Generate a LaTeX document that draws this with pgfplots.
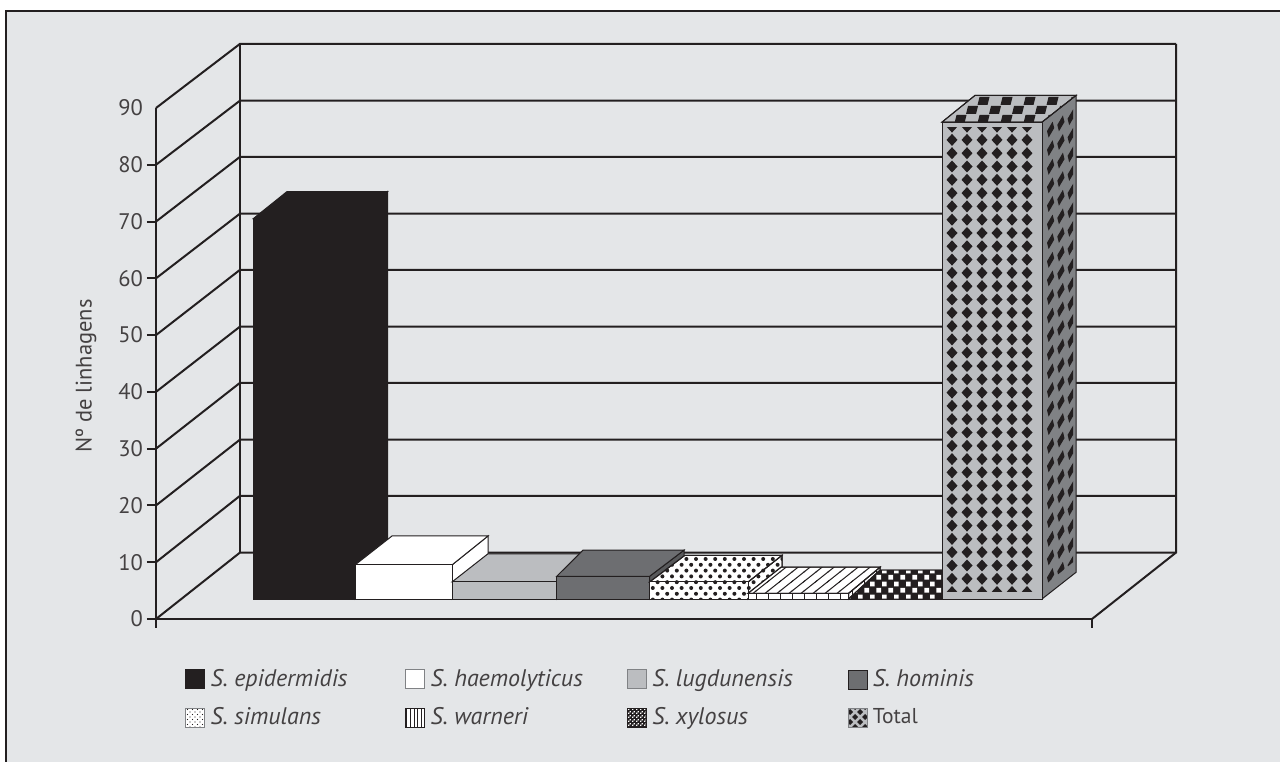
\documentclass[border=0pt]{standalone}
\usepackage{fontspec}
\setmainfont{PT Sans}
\usepackage{pgfplots}
\pgfplotsset{compat=1.18}
\usetikzlibrary{patterns}

\definecolor{panel}{HTML}{E4E6E8}
\definecolor{ink}{HTML}{231F20}
\definecolor{midgray}{HTML}{BBBDC0}
\definecolor{darkgray}{HTML}{6D6E71}
\definecolor{sidegray}{HTML}{808285}
\definecolor{darkside}{HTML}{58595B}

% Hatchings used on the faces of the bars
\pgfdeclarepatternformonly{bardots}{\pgfqpoint{-3pt}{-3pt}}{\pgfqpoint{9pt}{10pt}}{\pgfqpoint{9.6pt}{11.6pt}}{%
  \pgfpathcircle{\pgfqpoint{0pt}{0pt}}{2pt}\pgfpathcircle{\pgfqpoint{4.8pt}{5.8pt}}{2pt}\pgfusepath{fill}}
\pgfdeclarepatternformonly{barvlines}{\pgfqpoint{-1pt}{-1pt}}{\pgfqpoint{13pt}{13pt}}{\pgfqpoint{12pt}{12pt}}{%
  \pgfsetlinewidth{1pt}\pgfpathmoveto{\pgfqpoint{0pt}{-1pt}}\pgfpathlineto{\pgfqpoint{0pt}{13pt}}\pgfusepath{stroke}}
\pgfdeclarepatternformonly{barslant}{\pgfqpoint{-1pt}{-1pt}}{\pgfqpoint{13pt}{11pt}}{\pgfqpoint{12pt}{9.5pt}}{%
  \pgfsetlinewidth{1pt}\pgfpathmoveto{\pgfqpoint{-1pt}{-0.8pt}}\pgfpathlineto{\pgfqpoint{13pt}{10.3pt}}\pgfusepath{stroke}}
\pgfdeclarepatternformonly{barsquares}{\pgfqpoint{0pt}{0pt}}{\pgfqpoint{12pt}{13pt}}{\pgfqpoint{12pt}{13pt}}{%
  \pgfpathrectangle{\pgfqpoint{0.5pt}{0.5pt}}{\pgfqpoint{5pt}{5pt}}%
  \pgfpathrectangle{\pgfqpoint{6.5pt}{7pt}}{\pgfqpoint{5pt}{5pt}}\pgfusepath{fill}}
\pgfdeclarepatternformonly{bardiamonds}{\pgfqpoint{1pt}{-9.5pt}}{\pgfqpoint{13pt}{3.8pt}}{\pgfqpoint{15pt}{13.3pt}}{%
  \pgfpathmoveto{\pgfqpoint{1.5pt}{-3pt}}\pgfpathlineto{\pgfqpoint{7pt}{3pt}}\pgfpathlineto{\pgfqpoint{12.5pt}{-3pt}}\pgfpathlineto{\pgfqpoint{7pt}{-9pt}}\pgfpathclose\pgfusepath{fill}}
\pgfdeclarepatternformonly{barskewdiamonds}{\pgfqpoint{-6pt}{-11pt}}{\pgfqpoint{31pt}{26pt}}{\pgfqpoint{30.9pt}{18.6pt}}{%
  \foreach \cx/\cy in {0/0,10.3/6.2,20.6/12.4}{%
    \pgfpathmoveto{\pgfpointadd{\pgfpoint{\cx pt}{\cy pt}}{\pgfqpoint{-3.6pt}{-1.5pt}}}%
    \pgfpathlineto{\pgfpointadd{\pgfpoint{\cx pt}{\cy pt}}{\pgfqpoint{2pt}{8pt}}}%
    \pgfpathlineto{\pgfpointadd{\pgfpoint{\cx pt}{\cy pt}}{\pgfqpoint{3.6pt}{1.5pt}}}%
    \pgfpathlineto{\pgfpointadd{\pgfpoint{\cx pt}{\cy pt}}{\pgfqpoint{-2pt}{-8pt}}}%
    \pgfpathclose}\pgfusepath{fill}}
\pgfdeclarepatternformonly{barchecks}{\pgfqpoint{0pt}{0pt}}{\pgfqpoint{26pt}{18pt}}{\pgfqpoint{23pt}{18pt}}{%
  \pgfpathmoveto{\pgfqpoint{0pt}{0pt}}\pgfpathlineto{\pgfqpoint{10pt}{0pt}}\pgfpathlineto{\pgfqpoint{12pt}{8pt}}\pgfpathlineto{\pgfqpoint{2pt}{8pt}}\pgfpathclose
  \pgfpathmoveto{\pgfqpoint{11.5pt}{9pt}}\pgfpathlineto{\pgfqpoint{21.5pt}{9pt}}\pgfpathlineto{\pgfqpoint{23.5pt}{17pt}}\pgfpathlineto{\pgfqpoint{13.5pt}{17pt}}\pgfpathclose
  \pgfusepath{fill}}
% Finer versions for the legend keys
\pgfdeclarepatternformonly{keydots}{\pgfqpoint{-1pt}{-1pt}}{\pgfqpoint{4pt}{4pt}}{\pgfqpoint{5pt}{5pt}}{%
  \pgfpathcircle{\pgfqpoint{0pt}{0pt}}{0.6pt}\pgfpathcircle{\pgfqpoint{2.5pt}{2.5pt}}{0.6pt}\pgfusepath{fill}}
\pgfdeclarepatternformonly{keylines}{\pgfqpoint{-1pt}{-1pt}}{\pgfqpoint{4pt}{5pt}}{\pgfqpoint{3.6pt}{4pt}}{%
  \pgfsetlinewidth{1pt}\pgfpathmoveto{\pgfqpoint{0pt}{-1pt}}\pgfpathlineto{\pgfqpoint{0pt}{5pt}}\pgfusepath{stroke}}
\pgfdeclarepatternformonly{keychecks}{\pgfqpoint{0pt}{0pt}}{\pgfqpoint{4pt}{4pt}}{\pgfqpoint{4pt}{4pt}}{%
  \pgfpathrectangle{\pgfqpoint{0pt}{0pt}}{\pgfqpoint{1.5pt}{1.5pt}}%
  \pgfpathrectangle{\pgfqpoint{2pt}{2pt}}{\pgfqpoint{1.5pt}{1.5pt}}\pgfusepath{fill}}
\pgfdeclarepatternformonly{keydiamonds}{\pgfqpoint{-4pt}{-4pt}}{\pgfqpoint{9pt}{9pt}}{\pgfqpoint{10pt}{10pt}}{%
  \foreach \cx/\cy in {0/0,5/5}{%
    \pgfpathmoveto{\pgfpointadd{\pgfpoint{\cx pt}{\cy pt}}{\pgfqpoint{-3pt}{0pt}}}%
    \pgfpathlineto{\pgfpointadd{\pgfpoint{\cx pt}{\cy pt}}{\pgfqpoint{0pt}{3pt}}}%
    \pgfpathlineto{\pgfpointadd{\pgfpoint{\cx pt}{\cy pt}}{\pgfqpoint{3pt}{0pt}}}%
    \pgfpathlineto{\pgfpointadd{\pgfpoint{\cx pt}{\cy pt}}{\pgfqpoint{0pt}{-3pt}}}%
    \pgfpathclose}\pgfusepath{fill}}

\tikzset{
  plain face/.style={draw=ink,line width=1pt,fill=#1},
  hatch face/.style 2 args={draw=ink,line width=1pt,preaction={fill=#1},pattern=#2,pattern color=ink},
  white hatch face/.style={draw=ink,line width=1pt,preaction={fill=ink},pattern=#1,pattern color=white},
}

% Height of the bars' floor above the front zero line
\newcommand{\barfloor}{3.52}
% x-left, x-right, value, back x-left, back x-right, depth rise, then front, top and side styles
\newcommand{\threedbar}[9]{%
  \pgfmathsetmacro\ybot{\barfloor}%
  \pgfmathsetmacro\ytop{#3+\barfloor}%
  \pgfmathsetmacro\ybotb{\barfloor+#6}%
  \pgfmathsetmacro\ytopb{#3+\barfloor+#6}%
  \addplot[forget plot,#9] coordinates {(#2,\ybot) (#5,\ybotb) (#5,\ytopb) (#2,\ytop)} --cycle;
  \addplot[forget plot,#8] coordinates {(#1,\ytop) (#2,\ytop) (#5,\ytopb) (#4,\ytopb)} --cycle;
  \addplot[forget plot,#7] coordinates {(#1,\ybot) (#2,\ybot) (#2,\ytop) (#1,\ytop)} --cycle;
}
\newcommand{\keyname}[2]{\makebox[#1pt][l]{\hspace{5.5pt}\fontsize{24}{25}\selectfont\textit{#2}}}

\begin{document}
\fontsize{22.5}{25}\selectfont
\begin{tikzpicture}
  % Panel behind the chart, open towards the right and bottom edges
  \useasboundingbox (-156pt,-143pt) rectangle (1124pt,619pt);
  \fill[white] (-156pt,-143pt) rectangle (1124pt,619pt);
  \fill[panel] (-150pt,-143pt) rectangle (1124pt,608pt);
  \draw[ink,line width=2pt] (-150pt,-143pt) -- (-150pt,608pt) -- (1124pt,608pt);
  \begin{axis}[
    scale only axis,
    at={(0pt,0pt)},anchor=south west,
    width=936pt,height=511pt,
    xmin=156,xmax=1092,ymin=0,ymax=90,
    clip=false,
    axis x line*=bottom,axis y line*=left,
    axis line style={ink,line width=2pt,-},
    tick style={ink,line width=2pt},
    tick align=outside,
    xtick={156,1092},xticklabels={},
    major tick length=9pt,
    ytick={0,10,...,80},
    extra y ticks={90},extra y tick style={tick style={draw=none}},
    yticklabel style={text=ink!85,/pgf/number format/assume math mode=true,inner sep=0pt,xshift=-4pt},
    ylabel={N\textordmasculine\ de linhagens},
    every axis y label/.style={at={(axis description cs:-0.0748,0.4755)},rotate=90,anchor=center,text=ink!85},
    no markers,
    legend columns=4,
    legend image code/.code={\draw[#1] (0pt,-9.5pt) rectangle (19pt,9.5pt);},
    legend style={at={(axis description cs:0.031,-0.0978)},anchor=north west,draw=none,fill=none,
      inner sep=0pt,row sep=18pt,text=ink!85,
      nodes={inner sep=0pt,anchor=west}},
  ]
    % Side wall and back wall grid
    \addplot[forget plot,ink,line width=2pt] coordinates {(156,0) (240,11.7) (1176,11.7)};
    \addplot[forget plot,ink,line width=2pt] coordinates {(156,10) (240,21.7) (1176,21.7)};
    \addplot[forget plot,ink,line width=2pt] coordinates {(156,20) (240,31.6) (1176,31.6)};
    \addplot[forget plot,ink,line width=2pt] coordinates {(156,30) (240,41.6) (1176,41.6)};
    \addplot[forget plot,ink,line width=2pt] coordinates {(156,40) (240,51.5) (1176,51.5)};
    \addplot[forget plot,ink,line width=2pt] coordinates {(156,50) (240,61.5) (1176,61.5)};
    \addplot[forget plot,ink,line width=2pt] coordinates {(156,60) (240,71.4) (1176,71.4)};
    \addplot[forget plot,ink,line width=2pt] coordinates {(156,70) (240,81.4) (1176,81.4)};
    \addplot[forget plot,ink,line width=2pt] coordinates {(156,80) (240,91.3) (1176,91.3)};
    \addplot[forget plot,ink,line width=2pt] coordinates {(156,90) (240,101.3) (1176,101.3)};
    \addplot[forget plot,ink,line width=2pt] coordinates {(240,11.7) (240,101.3)};
    \addplot[forget plot,ink,line width=2pt] coordinates {(1092,0) (1176,11.7) (1176,101.3)};

    % Bars, painted from left to right
    \threedbar{253.3}{355}{67}{287}{387.5}{4.76}{plain face=ink}{plain face=ink}{plain face=ink}
    \threedbar{355}{452}{6}{392}{488}{5.1}{plain face=white}{plain face=white}{plain face=white}
    \threedbar{452}{556.7}{3}{488}{590}{4.97}{plain face=midgray}{plain face=midgray}{plain face=midgray}
    \threedbar{556.7}{649.6}{4}{583}{684}{4.6}{plain face=darkgray}{plain face=darkgray}{plain face=darkside}
    \threedbar{649.6}{748}{3}{685}{782}{4.7}{hatch face={white}{bardots}}{hatch face={white}{bardots}}{hatch face={white}{bardots}}
    \threedbar{748}{848.5}{1}{781}{880}{4.6}{hatch face={white}{barvlines}}{hatch face={white}{barslant}}{hatch face={white}{barvlines}}
    \threedbar{848.5}{944}{0}{880}{976}{5.1}{plain face=ink}{white hatch face=barsquares}{plain face=ink}
    \threedbar{942}{1042}{84}{975}{1076}{4.7}{plain face=midgray}{hatch face={midgray}{barchecks}}{plain face=sidegray}
    % Diamonds keep a margin inside the faces of the last bar
    \addplot[forget plot,draw=none,pattern=bardiamonds,pattern color=ink] coordinates {(946,4.9) (1036,4.9) (1036,86.5) (946,86.5)} --cycle;
    \addplot[forget plot,draw=none,pattern=barskewdiamonds,pattern color=ink] coordinates {(1045,6) (1073,10) (1073,90.5) (1045,86.5)} --cycle;

    % Legend keys and names
    \addlegendimage{draw=ink,line width=1pt,fill=ink}
    \addlegendentry{\keyname{200}{S. epidermidis}}
    \addlegendimage{draw=sidegray,line width=1pt,fill=white}
    \addlegendentry{\keyname{201.7}{S. haemolyticus}}
    \addlegendimage{draw=sidegray,line width=1pt,fill=midgray}
    \addlegendentry{\keyname{201}{S. lugdunensis}}
    \addlegendimage{draw=ink,line width=0.5pt,fill=darkgray}
    \addlegendentry{\keyname{130}{S. hominis}}
    \addlegendimage{draw=sidegray,line width=0.5pt,preaction={fill=white},pattern=keydots,pattern color=ink}
    \addlegendentry{\keyname{200}{S. simulans}}
    \addlegendimage{draw=ink,line width=0.5pt,preaction={fill=white},pattern=keylines,pattern color=ink}
    \addlegendentry{\keyname{201.7}{S. warneri}}
    \addlegendimage{draw=ink,line width=0.5pt,preaction={fill=ink},pattern=keychecks,pattern color=white}
    \addlegendentry{\keyname{201}{S. xylosus}}
    \addlegendimage{draw=sidegray,line width=0.5pt,preaction={fill=midgray},pattern=keydiamonds,pattern color=ink}
    \addlegendentry{\makebox[130pt][l]{\hspace{5.5pt}\fontsize{21.5}{25}\selectfont Total}}
  \end{axis}
\end{tikzpicture}
\end{document}
